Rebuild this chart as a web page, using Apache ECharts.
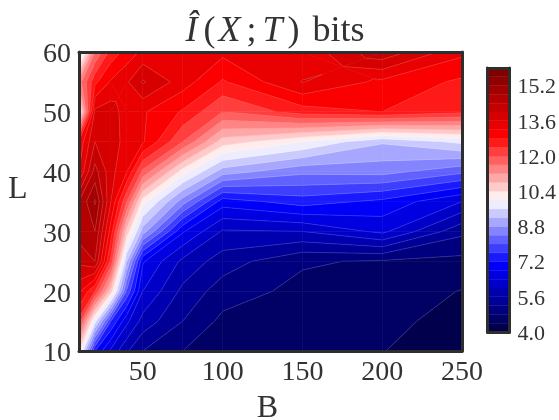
<!DOCTYPE html>
<html>
<head>
<meta charset="utf-8">
<title>I(X;T) bits</title>
<script src="https://cdn.jsdelivr.net/npm/echarts@6/dist/echarts.min.js"></script>
<style>
  html, body { margin: 0; background: #fff; }
  #chart { width: 559px; height: 420px; }
</style>
</head>
<body>
<div id="chart"></div>
<script>
const bValues = [10, 20, 30, 40, 50, 75, 100, 150, 200, 250];
const lValues = [10, 15, 20, 25, 30, 35, 40, 45, 50, 55, 60];

// one row per L, one value per B
const bitsL10 = [10.4, 7.2, 6.3, 5.65, 5.2, 4.8, 4.5, 4.45, 4.41, 4.2];
const bitsL15 = [12.3, 9.8, 7.6, 6.5, 5.85, 5.2, 4.7, 4.5, 4.5, 4.27];
const bitsL20 = [13.3, 12.4, 10.6, 7.9, 6.4, 5.5, 5.0, 4.68, 4.65, 4.38];
const bitsL25 = [14.1, 14.4, 12.3, 9.2, 6.85, 5.9, 5.4, 4.85, 4.75, 4.68];
const bitsL30 = [14.6, 14.8, 13.0, 10.6, 9.0, 6.85, 5.95, 6.0, 6.5, 5.3];
const bitsL35 = [14.4, 15.25, 13.6, 12.0, 10.2, 8.6, 7.0, 7.4, 7.1, 6.4];
const bitsL40 = [13.2, 14.55, 13.75, 13.2, 11.9, 10.2, 9.0, 8.5, 8.55, 8.1];
const bitsL45 = [12.9, 14.0, 13.8, 13.45, 13.25, 12.0, 10.6, 10.0, 9.25, 9.7];
const bitsL50 = [9.9, 13.7, 13.8, 13.4, 13.25, 12.75, 12.0, 12.6, 12.8, 12.5];
const bitsL55 = [11.4, 12.7, 13.25, 13.55, 14.05, 13.4, 12.75, 13.62, 13.1, 12.72];
const bitsL60 = [9.3, 11.6, 12.55, 12.95, 13.3, 13.3, 13.3, 13.3, 14.3, 13.3];
const bitsRows = [bitsL10, bitsL15, bitsL20, bitsL25, bitsL30, bitsL35, bitsL40, bitsL45, bitsL50, bitsL55, bitsL60];

const bTicks = [50, 100, 150, 200, 250];
const lTicks = [10, 20, 30, 40, 50, 60];
const barTicks = [4.0, 5.6, 7.2, 8.8, 10.4, 12.0, 13.6, 15.2];

const levelMin = 4.0;
const levelStep = 0.4;
const bandCount = 30;

const textColor = '#333333';
const spineColor = '#2e2e2e';
const serif = '"Liberation Serif", serif';

// seismic colormap
function seismic(t) {
  let r, g, b;
  if (t < 0.25) { r = 0; g = 0; b = 0.3 + 0.7 * t / 0.25; }
  else if (t < 0.5) { r = g = (t - 0.25) / 0.25; b = 1; }
  else if (t < 0.75) { r = 1; g = b = 1 - (t - 0.5) / 0.25; }
  else { r = 1 - 0.5 * (t - 0.75) / 0.25; g = 0; b = 0; }
  return 'rgb(' + [r, g, b].map(v => Math.round(v * 255)).join(',') + ')';
}

const bands = [];
for (let k = 0; k < bandCount; k++) {
  bands.push({
    lo: levelMin + k * levelStep,
    hi: levelMin + (k + 1) * levelStep,
    color: seismic(k / (bandCount - 1))
  });
}

// keep the part of polygon where sign * (z - level) >= 0
function clipPoly(poly, level, sign) {
  const out = [];
  for (let i = 0; i < poly.length; i++) {
    const p = poly[i];
    const q = poly[(i + 1) % poly.length];
    const dp = sign * (p[2] - level);
    const dq = sign * (q[2] - level);
    if (dp >= 0) out.push(p);
    if ((dp >= 0) !== (dq >= 0)) {
      const t = dp / (dp - dq);
      out.push([p[0] + t * (q[0] - p[0]), p[1] + t * (q[1] - p[1]), level]);
    }
  }
  return out;
}

// a saddle cell is cut into 4 triangles round its mean so bands do not bridge over it
function cellPieces(cell) {
  const z = cell.map(p => p[2]);
  const saddle = Math.min(z[0], z[2]) > Math.max(z[1], z[3]) || Math.min(z[1], z[3]) > Math.max(z[0], z[2]);
  if (!saddle) return [cell];
  const mid = [0, 1, 2].map(n => (cell[0][n] + cell[1][n] + cell[2][n] + cell[3][n]) / 4);
  return cell.map((p, n) => [p, cell[(n + 1) % 4], mid]);
}

function renderContourCell(params, api) {
  const i = api.value(2);
  const j = api.value(3);
  const cell = [
    [bValues[i], lValues[j], bitsRows[j][i]],
    [bValues[i + 1], lValues[j], bitsRows[j][i + 1]],
    [bValues[i + 1], lValues[j + 1], bitsRows[j + 1][i + 1]],
    [bValues[i], lValues[j + 1], bitsRows[j + 1][i]]
  ];
  const fills = [];
  const lines = [];
  cellPieces(cell).forEach(piece => {
    bands.forEach(band => {
      const upper = clipPoly(piece, band.lo, 1);
      if (upper.length < 3) return;
      const poly = clipPoly(upper, band.hi, -1);
      if (poly.length < 3) return;
      const points = poly.map(p => api.coord([p[0], p[1]]));
      fills.push({
        type: 'polygon',
        shape: { points: points },
        style: { fill: band.color, stroke: band.color, lineWidth: 0.6 }
      });
      // thin seam along the lower level, like the hairlines of a filled contour
      poly.forEach((p, n) => {
        const m = (n + 1) % poly.length;
        if (p[2] === band.lo && poly[m][2] === band.lo) {
          lines.push({
            type: 'line',
            shape: { x1: points[n][0], y1: points[n][1], x2: points[m][0], y2: points[m][1] },
            style: { stroke: 'rgba(255,255,255,0.3)', lineWidth: 0.5 },
            z2: 5
          });
        }
      });
    });
  });
  return { type: 'group', children: fills.concat(lines) };
}

function renderBarBand(params, api) {
  const a = api.coord([0, api.value(0)]);
  const b = api.coord([1, api.value(1)]);
  const color = bands[params.dataIndex].color;
  return {
    type: 'rect',
    shape: { x: a[0], y: b[1], width: b[0] - a[0], height: a[1] - b[1] },
    style: { fill: color, stroke: color, lineWidth: 0.4 }
  };
}

const cells = [];
for (let j = 0; j < lValues.length - 1; j++) {
  for (let i = 0; i < bValues.length - 1; i++) {
    cells.push([bValues[i], lValues[j], i, j]);
  }
}

const spine = { show: true, lineStyle: { color: spineColor, width: 3 } };
const hiddenLabel = { show: false };

const chart = echarts.init(document.getElementById('chart'), null, { renderer: 'canvas' });

const titleSize = 36;
const italicPart = { fontFamily: serif, fontStyle: 'italic', fontWeight: 'normal', fontSize: titleSize, color: textColor };
const plainPart = { fontFamily: serif, fontWeight: 'normal', fontSize: titleSize, color: textColor };

chart.setOption({
  animation: false,
  backgroundColor: '#ffffff',
  title: [
    {
      text: '{a|Î}{b|(}{c|X}{d|;}{e|T}{f|)}{g|bits}',
      left: 270,
      top: 9,
      textAlign: 'center',
      textStyle: {
        fontWeight: 'normal',
        rich: {
          a: { ...italicPart, padding: [0, 6, 0, 0] },
          b: { ...plainPart },
          c: { ...italicPart, padding: [0, 6, 0, 3] },
          d: { ...plainPart, padding: [0, 6, 0, 0] },
          e: { ...italicPart, padding: [0, 5, 0, 0] },
          f: { ...plainPart, padding: [0, 13, 0, 0] },
          g: { ...plainPart }
        }
      }
    },
    {
      text: 'L',
      left: 3,
      top: 169,
      textStyle: { fontFamily: serif, fontWeight: 'normal', fontSize: 32, color: textColor }
    }
  ],
  grid: [
    { left: 79, top: 52, width: 383, height: 299, outerBoundsMode: 'none' },
    { left: 487.5, top: 68, width: 22, height: 264, outerBoundsMode: 'none' }
  ],
  xAxis: [
    {
      type: 'value', gridIndex: 0, min: 10, max: 250, z: 5,
      name: 'B', nameLocation: 'middle', nameGap: 42,
      nameTextStyle: { fontFamily: serif, fontSize: 32, color: textColor, padding: [0, 6, 0, 0] },
      axisLine: { ...spine, onZero: false },
      axisTick: { show: false },
      splitLine: { show: false },
      axisLabel: {
        customValues: bTicks, fontFamily: serif, fontSize: 28, color: textColor,
        margin: 8, showMaxLabel: true
      }
    },
    {
      type: 'value', gridIndex: 0, min: 10, max: 250, z: 5, position: 'top',
      axisLine: { ...spine, onZero: false }, axisTick: { show: false },
      splitLine: { show: false }, axisLabel: hiddenLabel
    },
    {
      type: 'value', gridIndex: 1, min: 0, max: 1, z: 5,
      axisLine: { ...spine, onZero: false }, axisTick: { show: false },
      splitLine: { show: false }, axisLabel: hiddenLabel
    },
    {
      type: 'value', gridIndex: 1, min: 0, max: 1, z: 5, position: 'top',
      axisLine: { ...spine, onZero: false }, axisTick: { show: false },
      splitLine: { show: false }, axisLabel: hiddenLabel
    }
  ],
  yAxis: [
    {
      type: 'value', gridIndex: 0, min: 10, max: 60, z: 5,
      axisLine: { ...spine, onZero: false },
      axisTick: { show: false },
      splitLine: { show: false },
      axisLabel: {
        customValues: lTicks, margin: 8,
        formatter: v => '{t|' + v + '}',
        rich: { t: { fontFamily: serif, fontSize: 28, color: textColor, padding: [6, 0, 0, 0] } }
      }
    },
    {
      type: 'value', gridIndex: 0, min: 10, max: 60, z: 5, position: 'right',
      axisLine: { ...spine, onZero: false }, axisTick: { show: false },
      splitLine: { show: false }, axisLabel: hiddenLabel
    },
    {
      type: 'value', gridIndex: 1, min: 4, max: 16, z: 5, position: 'left',
      axisLine: { ...spine, onZero: false }, axisTick: { show: false },
      splitLine: { show: false }, axisLabel: hiddenLabel
    },
    {
      type: 'value', gridIndex: 1, min: 4, max: 16, z: 5, position: 'right',
      axisLine: { ...spine, onZero: false }, axisTick: { show: false },
      splitLine: { show: false },
      axisLabel: {
        customValues: barTicks, margin: 8,
        formatter: v => '{t|' + v.toFixed(1) + '}',
        rich: { t: { fontFamily: serif, fontSize: 22, color: textColor, padding: [4, 0, 0, 0] } }
      }
    }
  ],
  series: [
    {
      type: 'custom', xAxisIndex: 0, yAxisIndex: 0, silent: true,
      renderItem: renderContourCell, data: cells, encode: { x: 0, y: 1 }
    },
    {
      type: 'custom', xAxisIndex: 2, yAxisIndex: 2, silent: true,
      renderItem: renderBarBand,
      data: bands.map(band => [band.lo, band.hi]),
      encode: { y: [0, 1] }
    }
  ]
});
</script>
</body>
</html>
